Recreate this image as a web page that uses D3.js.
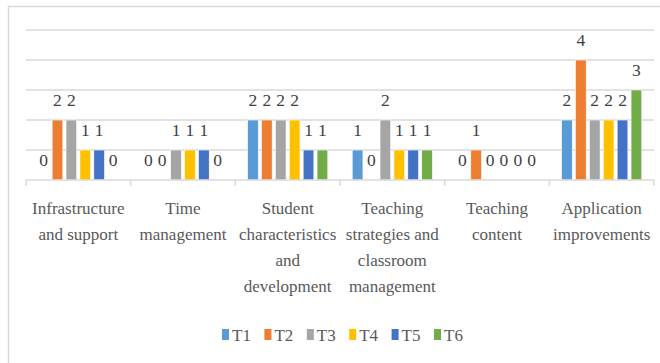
<!DOCTYPE html>
<html>
<head>
<meta charset="utf-8">
<script src="https://cdn.jsdelivr.net/npm/d3@7"></script>
<style>
  body { margin: 0; background: #fff; }
</style>
</head>
<body>
<div id="chart"></div>
<script>
const categories = [
    'Infrastructure and support',
    'Time management',
    'Student characteristics and development',
    'Teaching strategies and classroom management',
    'Teaching content',
    'Application improvements'
];
// how each category label wraps under the axis
const tickLines = [
    ['Infrastructure', 'and support'],
    ['Time', 'management'],
    ['Student', 'characteristics', 'and', 'development'],
    ['Teaching', 'strategies and', 'classroom', 'management'],
    ['Teaching', 'content'],
    ['Application', 'improvements']
];
const series = ['T1', 'T2', 'T3', 'T4', 'T5', 'T6'];
const T1 = [0, 0, 2, 1, 0, 2];
const T2 = [2, 0, 2, 0, 1, 4];
const T3 = [2, 1, 2, 2, 0, 2];
const T4 = [1, 1, 2, 1, 0, 2];
const T5 = [1, 1, 1, 1, 0, 2];
const T6 = [0, 0, 1, 1, 0, 3];
const yTicks = [0, 1, 2, 3, 4, 5];

const values = [T1, T2, T3, T4, T5, T6];
const colors = ['#5b9bd5', '#ed7d31', '#a5a5a5', '#ffc000', '#4472c4', '#70ad47'];

const font = "'Liberation Serif', 'Times New Roman', 'DejaVu Serif', serif";
const dims = {width: 660, height: 363};
const plot = {left: 26, right: 654, top: 30, bottom: 180};

const svg = d3.select('#chart')
    .append('svg')
    .attr('width', dims.width)
    .attr('height', dims.height)
    .attr('font-family', font);

// outer chart border (runs off the right/bottom of the picture)
svg.append('rect')
    .attr('x', 8.5)
    .attr('y', 6.5)
    .attr('width', 700)
    .attr('height', 400)
    .attr('fill', 'none')
    .attr('stroke', '#d9d9d9')
    .attr('stroke-width', 1.5);

const x = d3.scaleBand()
    .domain(categories)
    .range([plot.left, plot.right]);

const xInner = d3.scaleBand()
    .domain(series)
    .range([0, x.bandwidth()])
    .paddingInner(0.23)
    .paddingOuter(0.88);

const y = d3.scaleLinear()
    .domain([0, 5])
    .range([plot.bottom, plot.top]);

// gridlines
svg.append('g')
    .selectAll('line')
    .data(yTicks.filter(d => d > 0))
    .enter()
    .append('line')
        .attr('x1', plot.left)
        .attr('x2', plot.right)
        .attr('y1', d => y(d))
        .attr('y2', d => y(d))
        .attr('stroke', '#d9d9d9')
        .attr('stroke-width', 1.5);

// bars
const groups = svg.append('g')
    .selectAll('g')
    .data(series)
    .enter()
    .append('g')
        .attr('fill', (d, i) => colors[i]);

groups.selectAll('rect')
    .data((s, i) => categories.map((c, j) => ({cat: c, s: s, v: values[i][j]})))
    .enter()
    .append('rect')
        .attr('x', d => x(d.cat) + xInner(d.s))
        .attr('y', d => y(d.v))
        .attr('width', xInner.bandwidth())
        .attr('height', d => y(0) - y(d.v))
        .attr('stroke', '#fff')
        .attr('stroke-width', 0.6);

// value labels
groups.selectAll('text')
    .data((s, i) => categories.map((c, j) => ({cat: c, s: s, v: values[i][j]})))
    .enter()
    .append('text')
        .attr('x', d => x(d.cat) + xInner(d.s) + xInner.bandwidth() / 2)
        .attr('y', d => y(d.v) - 14)
        .attr('text-anchor', 'middle')
        .attr('font-size', 17.5)
        .attr('fill', '#404040')
        .text(d => d.v);

// x axis line and tick separators
const axis = svg.append('g');
axis.append('line')
    .attr('x1', plot.left)
    .attr('x2', plot.right)
    .attr('y1', y(0))
    .attr('y2', y(0))
    .attr('stroke', '#d9d9d9')
    .attr('stroke-width', 1.5);

axis.selectAll('.sep')
    .data(categories.map(c => x(c)).concat([plot.right]))
    .enter()
    .append('line')
        .attr('class', 'sep')
        .attr('x1', d => d)
        .attr('x2', d => d)
        .attr('y1', y(0))
        .attr('y2', y(0) + 6)
        .attr('stroke', '#d9d9d9')
        .attr('stroke-width', 1.5);

const tickLabel = axis.selectAll('.cat')
    .data(categories)
    .enter()
    .append('text')
        .attr('class', 'cat')
        .attr('text-anchor', 'middle')
        .attr('font-size', 17)
        .attr('fill', '#595959');

tickLabel.selectAll('tspan')
    .data((d, i) => tickLines[i].map(t => ({cat: d, t: t})))
    .enter()
    .append('tspan')
        .attr('x', d => x(d.cat) + x.bandwidth() / 2)
        .attr('y', (d, k) => 214 + k * 26)
        .text(d => d.t);

// legend
const legend = svg.append('g')
    .selectAll('g')
    .data(series)
    .enter()
    .append('g')
        .attr('transform', (d, i) => `translate(${222 + i * 42.4}, 0)`);

legend.append('rect')
    .attr('x', 0)
    .attr('y', 329)
    .attr('width', 7)
    .attr('height', 11)
    .attr('fill', (d, i) => colors[i]);

legend.append('text')
    .attr('x', 10)
    .attr('y', 341)
    .attr('font-size', 17)
    .attr('fill', '#595959')
    .text(d => d);
</script>
</body>
</html>
